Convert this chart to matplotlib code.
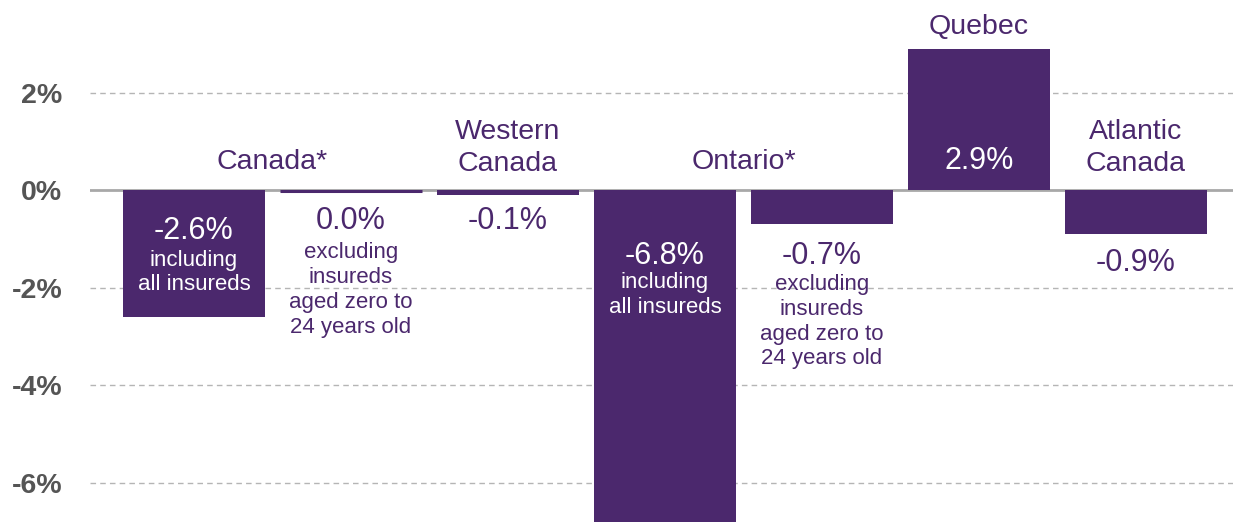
import matplotlib
matplotlib.use("Agg")
import matplotlib.pyplot as plt

# ---- data ----
bar_keys = ["Canada incl", "Canada excl", "Western Canada", "Ontario incl",
            "Ontario excl", "Quebec", "Atlantic Canada"]
values = [-2.6, 0.0, -0.1, -6.8, -0.7, 2.9, -0.9]
value_labels = ["-2.6%", "0.0%", "-0.1%", "-6.8%", "-0.7%", "2.9%", "-0.9%"]
sub_labels = ["including\nall insureds",
              "excluding\ninsureds\naged zero to\n24 years old",
              "",
              "including\nall insureds",
              "excluding\ninsureds\naged zero to\n24 years old",
              "",
              ""]
region_names = ["Canada*", "Western\nCanada", "Ontario*", "Quebec", "Atlantic\nCanada"]
yticks = [2, 0, -2, -4, -6]
ytick_labels = ["2%", "0%", "-2%", "-4%", "-6%"]

PURPLE = "#4B286D"
GRID = "#b5b5b5"
TICKC = "#555555"
FONT = ["Liberation Sans", "DejaVu Sans"]

W, H = 1233, 523
fig = plt.figure(figsize=(W / 100, H / 100), dpi=100)
ax = fig.add_axes([90 / W, 0, 1 - 90 / W, 1])

x = list(range(len(values)))
ax.set_xlim(-0.662, 6.618)
ax.set_ylim(-6.83, 3.9)

# grid and zero line
for t in yticks:
    if t == 0:
        ax.axhline(0, color="#a8a8a8", lw=2, zorder=1)
    else:
        ax.axhline(t, color=GRID, lw=1, ls=(0, (4, 3)), zorder=1)

bars = ax.bar(x, values, width=0.904, color=PURPLE, edgecolor=PURPLE,
              linewidth=0, zorder=2)
# zero-height bar drawn as thin line
for xi, v in zip(x, values):
    if v == 0:
        ax.plot([xi - 0.452, xi + 0.452], [-0.02, -0.02], color=PURPLE, lw=2.2,
                solid_capstyle="butt", zorder=3)

ax.set_yticks(yticks)
ax.set_yticklabels(ytick_labels)
ax.tick_params(axis="y", length=0, pad=20, labelsize=20.5, labelcolor=TICKC)
for lab in ax.get_yticklabels():
    lab.set_fontfamily(FONT)
    lab.set_fontweight("bold")
ax.set_xticks([])
for s in ax.spines.values():
    s.set_visible(False)
ax.patch.set_alpha(0)

# value labels
val_off = {  # (main label y, sub label center y), layout only
    0: (-0.84, -1.69), 1: (-0.63, -2.05), 2: (-0.63, None), 3: (-1.35, -2.16),
    4: (-1.35, -2.70), 5: (0.60, None), 6: (-1.50, None)}
for i, (v, vl, sl) in enumerate(zip(values, value_labels, sub_labels)):
    inside = abs(v) > 1.5
    col = "white" if inside else PURPLE
    my, sy = val_off[i]
    ax.text(i, my, vl, ha="center", va="center", color=col, fontsize=22,
            family=FONT, zorder=4)
    if sl:
        ax.text(i, sy, sl, ha="center", va="center", color=col, fontsize=16,
                family=FONT, linespacing=1.24, zorder=4)

# region labels
region_pos = [(0.5, 0.57), (2, 0.87), (3.5, 0.57), (5, 3.34), (6, 0.87)]
for name, (rx, ry) in zip(region_names, region_pos):
    ax.text(rx, ry, name, ha="center", va="center", color=PURPLE, fontsize=20.5,
            family=FONT, linespacing=1.3, zorder=4)

fig.savefig("out.png", dpi=100)
